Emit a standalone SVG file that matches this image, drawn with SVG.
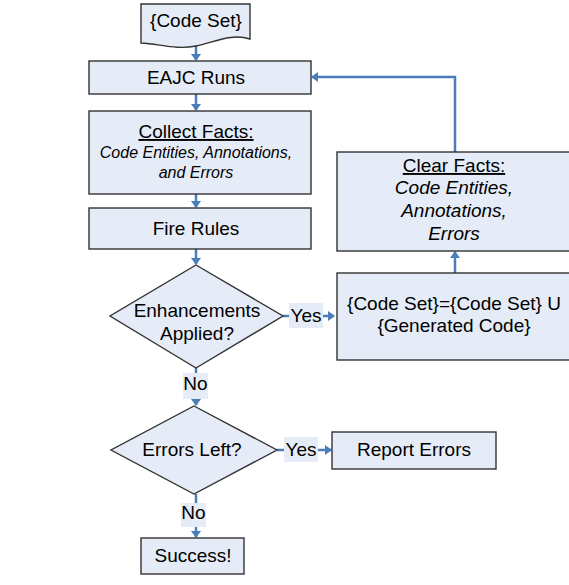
<svg xmlns="http://www.w3.org/2000/svg" width="569" height="585" viewBox="0 0 569 585">
<style>
.n{fill:#E6ECF7;stroke:#333;stroke-width:1.4}
.t{font-family:"Liberation Sans",Arial,sans-serif;font-size:19px;fill:#000;text-anchor:middle}
.i{font-style:italic}
.s{font-size:16px}
.c{fill:none;stroke:#4A7EBB;stroke-width:2.5}
.lb{fill:#E6ECF7}
</style>
<defs>
<marker id="ah" markerWidth="10" markerHeight="10" refX="6" refY="5" orient="auto" markerUnits="userSpaceOnUse">
<path d="M0,0 L7,5 L0,10 Z" fill="#4A7EBB"/>
</marker>
</defs>
<rect width="569" height="585" fill="#fff"/>
<g id="connectors">
<path class="c" d="M196,44 V60" marker-end="url(#ah)"/>
<path class="c" d="M196,94 V110" marker-end="url(#ah)"/>
<path class="c" d="M196,194 V207" marker-end="url(#ah)"/>
<path class="c" d="M196,248 V264" marker-end="url(#ah)"/>
<path class="c" d="M283,316 H334" marker-end="url(#ah)"/>
<path class="c" d="M455,273 V252" marker-end="url(#ah)"/>
<path class="c" d="M455,152 V77 H312" marker-end="url(#ah)"/>
<path class="c" d="M196,368 V405" marker-end="url(#ah)"/>
<path class="c" d="M277,450 H331" marker-end="url(#ah)"/>
<path class="c" d="M196,494 V537" marker-end="url(#ah)"/>
<rect class="lb" x="289" y="303" width="34" height="25"/>
<text class="t" x="306" y="322">Yes</text>
<rect class="lb" x="183" y="373" width="25" height="26"/>
<text class="t" x="195.5" y="390">No</text>
<rect class="lb" x="284" y="437" width="34" height="25"/>
<text class="t" x="301" y="456">Yes</text>
<rect class="lb" x="181" y="503" width="25" height="24"/>
<text class="t" x="193.5" y="519">No</text>
</g>
<g id="codeset">
<path class="n" d="M141,4 H250 V39 C232,33 215,42 196,46 C176,50 160,44 141,43 Z"/>
<text class="t" x="196" y="27">{Code Set}</text>
</g>
<g id="eajc">
<rect class="n" x="89" y="61" width="222" height="33"/>
<text class="t" x="196" y="84">EAJC Runs</text>
</g>
<g id="collect">
<rect class="n" x="89" y="111" width="222" height="83"/>
<text class="t" x="196" y="138" text-decoration="underline">Collect Facts:</text>
<text class="t i s" x="196" y="158">Code Entities, Annotations,</text>
<text class="t i s" x="196" y="178">and Errors</text>
</g>
<g id="fire">
<rect class="n" x="89" y="208" width="222" height="41"/>
<text class="t" x="196" y="235">Fire Rules</text>
</g>
<g id="enh">
<path class="n" d="M196,265 L283,316 L196,368 L110,316 Z"/>
<text class="t" x="197" y="317">Enhancements</text>
<text class="t" x="197" y="340">Applied?</text>
</g>
<g id="clear">
<rect class="n" x="337" y="152" width="236" height="99"/>
<text class="t" x="454" y="172" text-decoration="underline">Clear Facts:</text>
<text class="t i" x="454" y="194">Code Entities,</text>
<text class="t i" x="454" y="217">Annotations,</text>
<text class="t i" x="454" y="240">Errors</text>
</g>
<g id="union">
<rect class="n" x="337" y="273" width="236" height="87"/>
<text class="t" x="454" y="310">{Code Set}={Code Set} U</text>
<text class="t" x="454" y="332">{Generated Code}</text>
</g>
<g id="errs">
<path class="n" d="M194,406 L277,450 L194,494 L111,450 Z"/>
<text class="t" x="192" y="456">Errors Left?</text>
</g>
<g id="report">
<rect class="n" x="332" y="432" width="164" height="37"/>
<text class="t" x="414" y="456">Report Errors</text>
</g>
<g id="success">
<rect class="n" x="141" y="538" width="103" height="36"/>
<text class="t" x="193" y="562">Success!</text>
</g>
</svg>
